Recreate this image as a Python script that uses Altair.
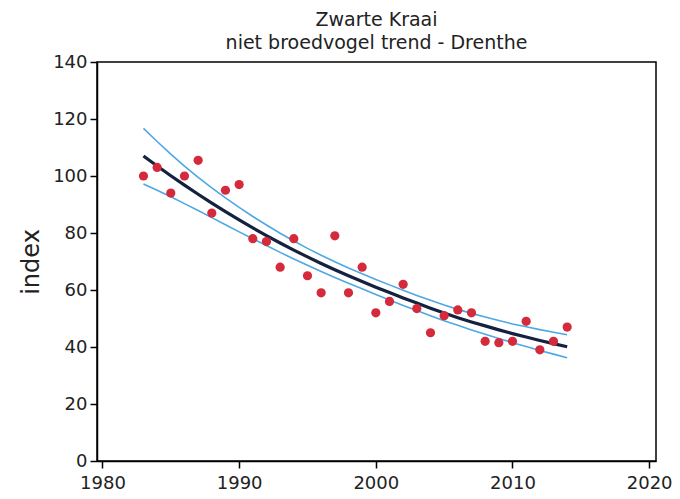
import altair as alt
import pandas as pd

years = list(range(1983, 2015))
index_values = [100, 103, 94, 100, 105.5, 87, 95, 97, 78, 77, 68, 78, 65, 59, 79, 59,
                68, 52, 56, 62, 53.5, 45, 51, 53, 52, 42, 41.5, 42, 49, 39, 42, 47]
trend = [107.0, 103.5, 100.1, 96.8, 93.6, 90.5, 87.5, 84.6, 81.8, 79.1, 76.5, 74.0,
         71.6, 69.3, 67.1, 65.0, 63.0, 61.0, 59.1, 57.2, 55.4, 53.6, 51.9, 50.3,
         48.8, 47.4, 46.0, 44.7, 43.5, 42.3, 41.2, 40.1]
upper = [116.7, 112.1, 107.7, 103.5, 99.5, 95.8, 92.3, 89.0, 85.8, 82.8, 79.9, 77.2,
         74.6, 72.2, 69.9, 67.7, 65.7, 63.7, 61.8, 59.9, 58.1, 56.4, 54.7, 53.2,
         51.8, 50.5, 49.3, 48.1, 47.1, 46.1, 45.2, 44.3]
lower = [97.2, 95.0, 92.7, 90.3, 87.9, 85.4, 82.9, 80.4, 78.0, 75.6, 73.2, 70.9,
         68.7, 66.5, 64.4, 62.4, 60.4, 58.4, 56.5, 54.6, 52.8, 51.0, 49.2, 47.6,
         46.0, 44.5, 43.0, 41.5, 40.2, 38.8, 37.5, 36.2]
x_ticks = [1980, 1990, 2000, 2010, 2020]
y_ticks = [0, 20, 40, 60, 80, 100, 120, 140]

df = pd.DataFrame({"year": years, "index": index_values, "trend": trend,
                   "upper": upper, "lower": lower})

x_enc = alt.X("year:Q",
              scale=alt.Scale(domain=[1979.6, 2020.5], nice=False, zero=False),
              axis=alt.Axis(values=x_ticks, format="d", title=None, grid=False,
                            labelPadding=6))
y_axis = alt.Axis(values=y_ticks, title="index", grid=False, titleFontSize=24,
                  titleFontWeight="normal", titlePadding=9, titleColor="#222")
y_scale = alt.Scale(domain=[0, 140], nice=False)

base = alt.Chart(df)

lo = base.mark_line(color="#4ea8e2", strokeWidth=1.6).encode(
    x=x_enc, y=alt.Y("lower:Q", scale=y_scale, axis=y_axis))
up = base.mark_line(color="#4ea8e2", strokeWidth=1.6).encode(
    x=x_enc, y=alt.Y("upper:Q", scale=y_scale, axis=y_axis))
tr = base.mark_line(color="#15223f", strokeWidth=3.2).encode(
    x=x_enc, y=alt.Y("trend:Q", scale=y_scale, axis=y_axis))
pts = base.mark_circle(color="#d42a3c", size=85, opacity=1).encode(
    x=x_enc, y=alt.Y("index:Q", scale=y_scale, axis=y_axis))

chart = alt.layer(lo, up, tr, pts).properties(
    width=559, height=399,
    title=alt.TitleParams(text=["Zwarte Kraai", "niet broedvogel trend - Drenthe"],
                          fontSize=19, font="DejaVu Sans", fontWeight="normal",
                          lineHeight=23, offset=0, anchor="middle", color="#222"),
    autosize=alt.AutoSizeParams(type="none"),
    padding={"left": 89, "top": 54, "right": 16, "bottom": 30},
).configure_view(
    stroke="black", strokeWidth=1.5
).configure_axis(
    domainColor="black", domainWidth=1.5, tickColor="black", tickSize=7,
    tickWidth=1.5, labelFont="DejaVu Sans", labelFontSize=18, labelColor="#222",
    labelPadding=3, titleFont="DejaVu Sans"
)

chart.save("out.html", embed_options={"renderer": "svg", "actions": False})
